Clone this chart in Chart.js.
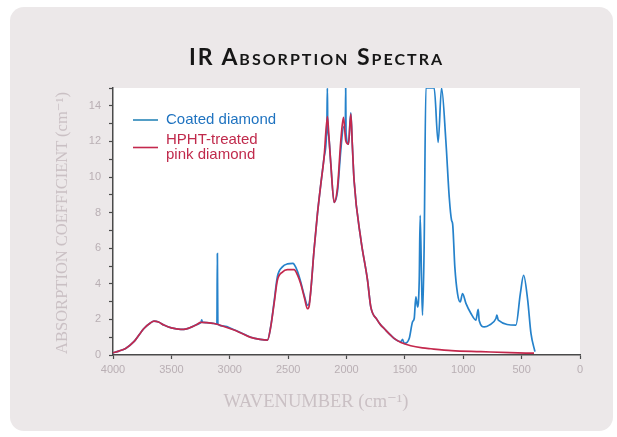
<!DOCTYPE html>
<html>
<head>
<meta charset="utf-8">
<script src="https://cdn.jsdelivr.net/npm/chart.js@4"></script>
<style>
  html, body { margin: 0; padding: 0; background: #fff; }
  #wrap { position: relative; width: 617px; height: 437px; overflow: hidden; }
  #card {
    position: absolute; left: 10px; top: 7px; width: 603px; height: 424px;
    background: #ece8e9; border-radius: 14px;
  }
  #chart { position: absolute; left: 0; top: 0; }
  .title {
    position: absolute; left: 8px; top: 43px; width: 617px; text-align: center;
    font: bold 23px Lato, "Open Sans", sans-serif; font-variant: small-caps;
    letter-spacing: 2px; color: #161616; line-height: 26px;
  }
  .axis-title {
    position: absolute; color: #cac0c4; font: 18.5px "Liberation Serif", "DejaVu Serif", serif;
    white-space: nowrap; text-align: center; line-height: 20px;
  }
  #xtitle { left: 166px; width: 300px; top: 391px; }
  #ytitle { left: -88px; width: 300px; top: 213px; font-size: 16.5px; transform: rotate(-90deg); }
</style>
</head>
<body>
<div id="wrap">
  <div id="card"></div>
  <canvas id="chart" width="617" height="437"></canvas>
  <div class="title">IR Absorption Spectra</div>
  <div class="axis-title" id="ytitle">ABSORPTION COEFFICIENT (cm⁻¹)</div>
  <div class="axis-title" id="xtitle">WAVENUMBER (cm⁻¹)</div>
</div>
<script>
// Wavenumber (cm-1) and absorption coefficient (cm-1)
const hphtWavenumber = [4000, 3950, 3892, 3821, 3735, 3680, 3649, 3610, 3564, 3500, 3420, 3370, 3335, 3280, 3249, 3200, 3135, 3050, 2963, 2900, 2820, 2740, 2677, 2649, 2620, 2592, 2549, 2506, 2449, 2420, 2392, 2360, 2334, 2320, 2306, 2278, 2249, 2220, 2192, 2163, 2150, 2134, 2106, 2077, 2049, 2026, 2006, 1983, 1963, 1950, 1935, 1877, 1820, 1792, 1740, 1706, 1678, 1620, 1592, 1534, 1450, 1350, 1277, 1100, 849, 600, 394];
const hphtAbsorption = [0.12, 0.22, 0.37, 0.75, 1.49, 1.8, 1.9, 1.85, 1.68, 1.52, 1.44, 1.47, 1.55, 1.72, 1.83, 1.82, 1.77, 1.6, 1.4, 1.22, 0.99, 0.88, 0.84, 1.58, 2.9, 4.2, 4.66, 4.8, 4.8, 4.5, 4.0, 3.2, 2.6, 2.75, 3.6, 5.9, 7.93, 9.6, 11.1, 13.4, 12.2, 10.7, 8.58, 9.42, 12.0, 13.35, 12.04, 11.85, 13.53, 11.8, 9.8, 6.5, 4.2, 2.7, 2.0, 1.68, 1.49, 1.1, 0.93, 0.7, 0.52, 0.4, 0.35, 0.25, 0.19, 0.13, 0.1];

const coatedWavenumber = [4000, 3950, 3892, 3821, 3735, 3680, 3649, 3610, 3564, 3500, 3420, 3370, 3335, 3280, 3245, 3240, 3235, 3200, 3135, 3110, 3106, 3102, 3050, 2963, 2900, 2820, 2740, 2677, 2649, 2620, 2592, 2549, 2506, 2460, 2449, 2420, 2392, 2360, 2334, 2320, 2306, 2278, 2249, 2220, 2192, 2168, 2164, 2161, 2150, 2134, 2106, 2077, 2049, 2026, 2010, 2007, 2004, 1983, 1963, 1950, 1935, 1877, 1820, 1792, 1740, 1706, 1678, 1620, 1592, 1534, 1520, 1506, 1463, 1434, 1420, 1406, 1391, 1377, 1369, 1357, 1349, 1335, 1320, 1249, 1215, 1186, 1149, 1120, 1100, 1091, 1072, 1049, 1026, 1006, 977, 934, 892, 872, 863, 820, 777, 720, 712, 700, 549, 511, 483, 448, 420, 386];
const coatedAbsorption = [0.12, 0.22, 0.37, 0.75, 1.49, 1.8, 1.9, 1.85, 1.68, 1.52, 1.44, 1.47, 1.55, 1.72, 1.85, 1.98, 1.85, 1.82, 1.77, 1.74, 5.7, 1.73, 1.62, 1.42, 1.24, 1.0, 0.88, 0.84, 1.6, 3.0, 4.4, 4.95, 5.12, 5.15, 5.1, 4.7, 4.1, 3.3, 2.8, 2.9, 3.6, 5.9, 7.93, 9.6, 11.1, 13.0, 15, 13.2, 12.2, 10.7, 8.58, 9.2, 11.5, 12.8, 13.0, 15, 12.5, 11.85, 13.6, 11.8, 9.8, 6.5, 4.2, 2.7, 2.0, 1.68, 1.49, 1.1, 0.93, 0.75, 0.88, 0.65, 0.93, 1.87, 2.05, 3.27, 2.7, 4.2, 7.84, 4.2, 2.24, 6.06, 15, 15, 11.94, 15, 12.04, 8.86, 7.56, 7.37, 4.94, 3.45, 2.98, 3.45, 2.9, 2.33, 1.96, 2.56, 1.92, 1.58, 1.68, 2.05, 2.24, 1.96, 1.68, 3.45, 4.48, 3.08, 1.21, 0.19];

const xTicks = [4000, 3500, 3000, 2500, 2000, 1500, 1000, 500, 0];
const yTickLabels = [0, 2, 4, 6, 8, 10, 12, 14];

const BLUE = '#2582cb';
const RED = '#c4284d';

function toPoints(xs, ys) {
  return xs.map((x, i) => ({ x: x, y: ys[i] }));
}

// white plotting area on the grey card
const plotBackground = {
  id: 'plotBackground',
  beforeDraw(chart) {
    const { ctx, chartArea: a } = chart;
    ctx.save();
    ctx.fillStyle = '#ffffff';
    ctx.fillRect(a.left, a.top, a.right - a.left, a.bottom - a.top);
    ctx.restore();
  },
};

// legend in the top-left corner, second label wraps on two lines
const insetLegend = {
  id: 'insetLegend',
  afterDraw(chart) {
    const { ctx, chartArea: a } = chart;
    const x0 = a.left + 20;
    const entries = [
      { color: '#2a86b8', text: ['Coated diamond'], textColor: '#1f73c0', y: a.top + 32 },
      { color: RED, text: ['HPHT-treated', 'pink diamond'], textColor: '#c02a4c', y: a.top + 52 },
    ];
    ctx.save();
    ctx.font = '15px "Liberation Sans", Arial, sans-serif';
    ctx.textBaseline = 'middle';
    entries.forEach((e) => {
      const lineY = e.y + (e.text.length - 1) * 7.5;
      ctx.strokeStyle = e.color;
      ctx.lineWidth = 1.6;
      ctx.beginPath();
      ctx.moveTo(x0, lineY);
      ctx.lineTo(x0 + 25, lineY);
      ctx.stroke();
      ctx.fillStyle = e.textColor;
      e.text.forEach((t, i) => ctx.fillText(t, x0 + 33, e.y + i * 15));
    });
    ctx.restore();
  },
};

const canvas = document.getElementById('chart');
new Chart(canvas.getContext('2d'), {
  type: 'line',
  data: {
    datasets: [
      {
        label: 'HPHT-treated pink diamond',
        data: toPoints(hphtWavenumber, hphtAbsorption),
        borderColor: RED,
        borderWidth: 1.7,
        pointRadius: 0,
        cubicInterpolationMode: 'monotone',
        fill: false,
        order: 1,
      },
      {
        label: 'Coated diamond',
        data: toPoints(coatedWavenumber, coatedAbsorption),
        borderColor: BLUE,
        borderWidth: 1.7,
        pointRadius: 0,
        cubicInterpolationMode: 'monotone',
        fill: false,
        order: 2,
      },
    ],
  },
  options: {
    responsive: false,
    animation: false,
    layout: { padding: { left: 0, top: 88, right: 37, bottom: 0 } },
    plugins: {
      legend: { display: false },
      tooltip: { enabled: false },
      title: { display: false },
    },
    scales: {
      x: {
        type: 'linear',
        reverse: true,
        min: 0,
        max: 4000,
        afterFit(scale) { scale.height = 82; },
        afterBuildTicks(scale) { scale.ticks = xTicks.map((v) => ({ value: v })); },
        grid: { drawOnChartArea: false, tickLength: 4, tickColor: '#4a4a4a', tickWidth: 1.2 },
        border: { color: '#4a4a4a', width: 1.5 },
        ticks: {
          color: '#b9afb4',
          padding: 4,
          font: { size: 11, family: '"Liberation Sans", Arial, sans-serif' },
          maxRotation: 0,
          callback: (v) => String(v),
        },
      },
      y: {
        min: 0,
        max: 15,
        afterFit(scale) { scale.width = 113; },
        grid: { drawOnChartArea: false, tickLength: 4, tickColor: '#4a4a4a', tickWidth: 1.2 },
        border: { color: '#4a4a4a', width: 1.5 },
        ticks: {
          stepSize: 1,
          color: '#b9afb4',
          padding: 8,
          font: { size: 11, family: '"Liberation Sans", Arial, sans-serif' },
          callback: (v) => (yTickLabels.includes(v) ? String(v) : ''),
        },
      },
    },
  },
  plugins: [plotBackground, insetLegend],
});
</script>
</body>
</html>
